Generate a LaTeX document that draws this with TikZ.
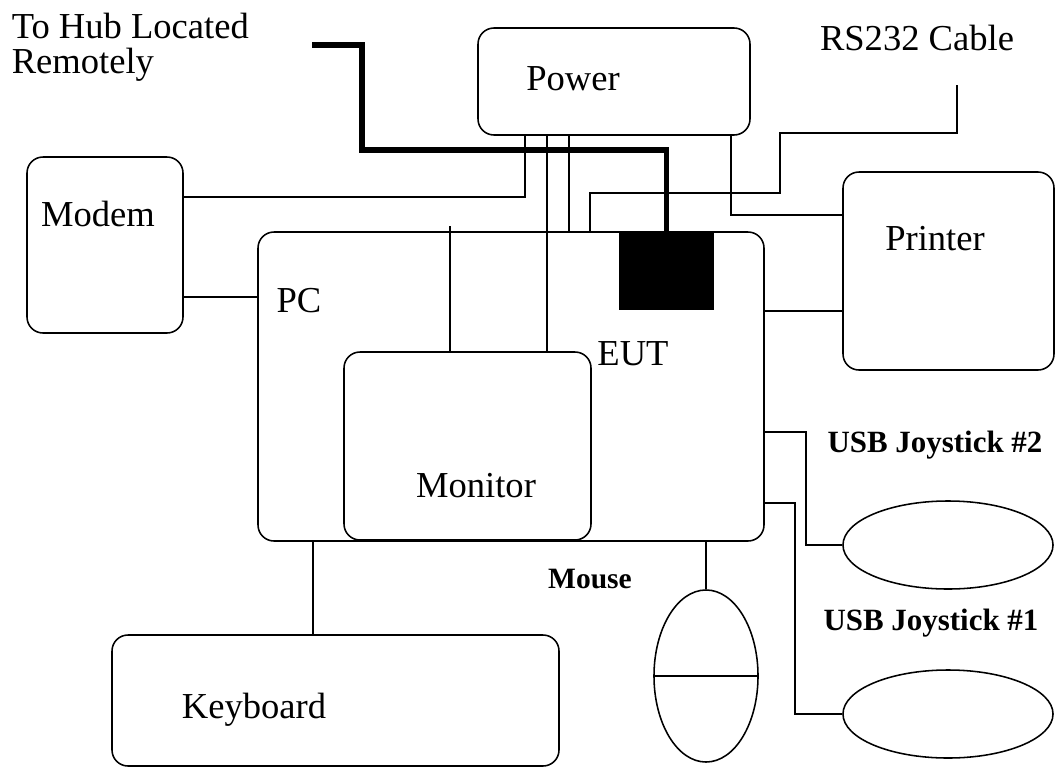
\documentclass[tikz,border=0pt]{standalone}
\usepackage{fontspec}
\setmainfont{Liberation Serif}
\usetikzlibrary{fit,shapes.geometric}

\begin{document}
\begin{tikzpicture}[x=0.025cm,y=-0.025cm,line width=1.1pt,
	box/.style={draw,rounded corners=0.4cm,inner sep=0pt},
	blob/.style={draw,ellipse,inner sep=0pt},
	lbl/.style={inner sep=0pt,anchor=base,font=\fontsize{26}{26}\selectfont},
	small/.style={inner sep=0pt,anchor=base,font=\fontsize{22}{22}\selectfont\bfseries},
	hub/.style={line width=4pt}]
	\useasboundingbox (0,0) rectangle (1057,769);
	% boxes
	\node (power) [box,fit={(478,28) (750,135)}] {};
	\node (modem) [box,fit={(27,157) (183,333)}] {};
	\node (pc) [box,fit={(258,232) (764,541)}] {};
	\node (monitor) [box,fit={(344,352) (591,540)}] {};
	\node (printer) [box,fit={(843,172) (1054,370)}] {};
	\node (keyboard) [box,fit={(112,635) (559,766)}] {};
	\node (eut) [draw,fill=black,inner sep=0pt,fit={(620,232) (713,309)}] {};
	\node (joy2) at (948,545) [blob,minimum width=5.25cm,minimum height=2.2cm] {};
	\node (joy1) at (948,714) [blob,minimum width=5.25cm,minimum height=2.2cm] {};
	\node (mouse) at (706,676) [blob,minimum width=2.6cm,minimum height=4.3cm] {};
	% labels
	\node (hublbl) at (11,12) [anchor=north west,align=left,inner sep=0pt,font=\fontsize{26}{25}\selectfont] {To Hub Located\\Remotely};
	\node (powerlbl) at (573,90) [lbl] {Power};
	\node (rslbl) at (917,50) [lbl] {RS232 Cable};
	\node (modemlbl) at (98,226) [lbl] {Modem};
	\node (printerlbl) at (935,250) [lbl] {Printer};
	\node (pclbl) at (299,312) [lbl] {PC};
	\node (eutlbl) at (633,365) [lbl] {EUT};
	\node (monlbl) at (476,497) [lbl] {Monitor};
	\node (kbdlbl) at (254,718) [lbl] {Keyboard};
	\node (mouselbl) at (590,588) [small,font=\fontsize{21}{21}\selectfont\bfseries] {Mouse};
	\node (joy2lbl) at (935,452) [small] {USB Joystick \#2};
	\node (joy1lbl) at (931,630) [small] {USB Joystick \#1};
	% cables
	\coordinate (hubend) at (312,45);
	\coordinate (rsend) at (957,85);
	\coordinate (moncable) at (450,226);
	\draw [hub] (hubend) -- ++(50,0) |- (eut.north |- 0,150) -- (eut.north);
	\draw (power.south -| 525,0) |- (modem.east |- 0,197);
	\draw (power.south -| 547,0) -- (monitor.north -| 547,0);
	\draw (power.south -| 569,0) -- (pc.north -| 569,0);
	\draw (power.south -| 731,0) |- (printer.west |- 0,215);
	\draw (rsend) |- (780,133) |- (590,193) -- (pc.north -| 590,0);
	\draw (moncable) -- (monitor.north -| moncable);
	\draw (modem.east |- 0,297) -- (pc.west |- 0,297);
	\draw (pc.east |- 0,311) -- (printer.west |- 0,311);
	\draw (pc.east |- 0,432) -| (806,545) -- (joy2.west);
	\draw (pc.east |- 0,503) -| (795,714) -- (joy1.west);
	\draw (pc.south -| mouse.north) -- (mouse.north);
	\draw (mouse.west) -- (mouse.east);
	\draw (pc.south -| 313,0) -- (keyboard.north -| 313,0);
\end{tikzpicture}
\end{document}
